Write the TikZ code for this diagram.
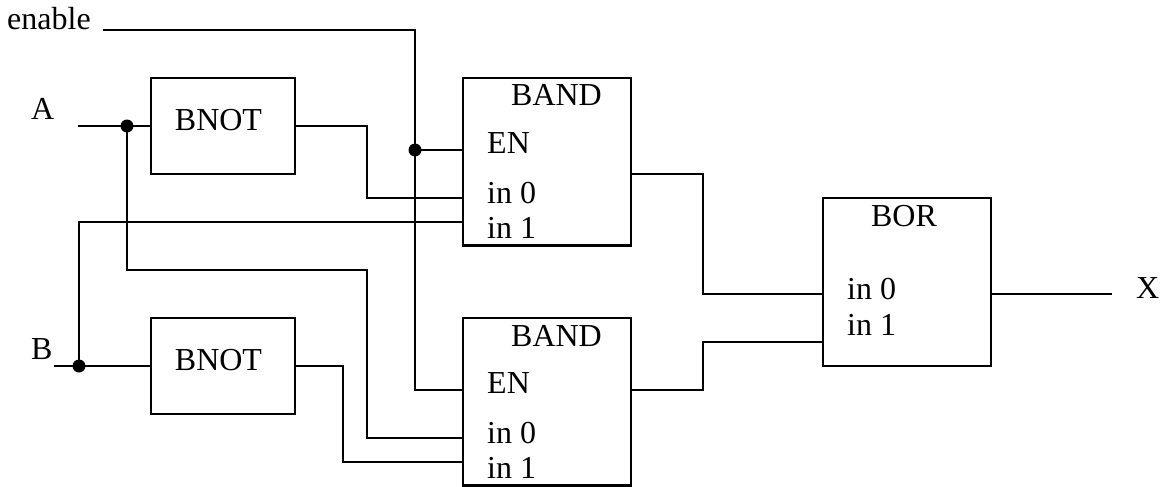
\documentclass[tikz,border=0pt]{standalone}
\usepackage{fontspec}
\setmainfont{Liberation Serif}
\tikzset{
  wire/.style={line width=2.2pt},
  box/.style={draw,line width=2.2pt,rectangle,inner sep=0pt,outer sep=0pt,anchor=north west},
  lbl/.style={inner sep=0pt,font=\fontsize{32}{32}\selectfont,anchor=base west},
  lblc/.style={inner sep=0pt,font=\fontsize{32}{32}\selectfont,anchor=base},
  junction/.style={circle,fill=black,inner sep=0pt,minimum size=13pt}
}
\begin{document}
\begin{tikzpicture}[x=1pt,y=-1pt]
\useasboundingbox (0,0) rectangle (1165,487);
% boxes
\node[box,minimum width=144pt,minimum height=96pt] (not1) at (151,78) {};
\node[box,minimum width=144pt,minimum height=96pt] (not2) at (151,318) {};
\node[box,minimum width=168pt,minimum height=167.5pt] (and1) at (463,78) {};
\node[box,minimum width=168pt,minimum height=167.5pt] (and2) at (463,318) {};
\node[box,minimum width=168pt,minimum height=168pt] (or) at (823,198) {};
% labels
\node[lbl] (tenable) at (7,30) {enable};
\node[lbl] (ta) at (31,119) {A};
\node[lbl] (tb) at (31,359) {B};
\node[lbl] (tx) at (1136,298) {X};
\node[lblc] (tn1) at (218.5,130) {BNOT};
\node[lblc] (tn2) at (218.5,370) {BNOT};
\node[lblc] (ta1) at (556.5,106) {BAND};
\node[lblc] (ta2) at (556.5,346) {BAND};
\node[lblc] (tor) at (904,226) {BOR};
\node[lbl] (ten1) at (487,153) {EN};
\node[lbl] (tia10) at (487,203) {in 0};
\node[lbl] (tia11) at (487,238) {in 1};
\node[lbl] (ten2) at (487,393) {EN};
\node[lbl] (tia20) at (487,443) {in 0};
\node[lbl] (tia21) at (487,478) {in 1};
\node[lbl] (tio0) at (847,299) {in 0};
\node[lbl] (tio1) at (847,335) {in 1};
% pins
\coordinate (enS) at (103,30);
\coordinate (enJ) at (415,150);
\coordinate (aS) at (78,126);
\coordinate (aJ) at (127,126);
\coordinate (bS) at (54,366);
\coordinate (bJ) at (79,366);
\coordinate (xE) at (1112,294);
\coordinate (a1en) at (463,150);
\coordinate (a1i0) at (463,198);
\coordinate (a1i1) at (463,222);
\coordinate (a2en) at (463,390);
\coordinate (a2i0) at (463,438);
\coordinate (a2i1) at (463,462);
\coordinate (oi0) at (823,294);
\coordinate (oi1) at (823,342);
% wires
\draw[wire] (enS) -- (415,30) -- (415,390) -- (a2en);
\draw[wire] (enJ) -- (a1en);
\draw[wire] (aS) -- (not1.west |- aS);
\draw[wire] (aJ) -- (127,270) -- (367,270) -- (367,438) -- (a2i0);
\draw[wire] (not1.east |- aS) -- (367,126) -- (367,198) -- (a1i0);
\draw[wire] (bS) -- (not2.west |- bS);
\draw[wire] (bJ) -- (79,222) -- (a1i1);
\draw[wire] (not2.east |- bS) -- (343,366) -- (343,462) -- (a2i1);
\draw[wire] (and1.east |- 0,174) -- (703,174) -- (703,294) -- (oi0);
\draw[wire] (and2.east |- 0,390) -- (703,390) -- (703,342) -- (oi1);
\draw[wire] (or.east |- xE) -- (xE);
\node[junction] (j1) at (enJ) {};
\node[junction] (j2) at (aJ) {};
\node[junction] (j3) at (bJ) {};
\end{tikzpicture}
\end{document}
